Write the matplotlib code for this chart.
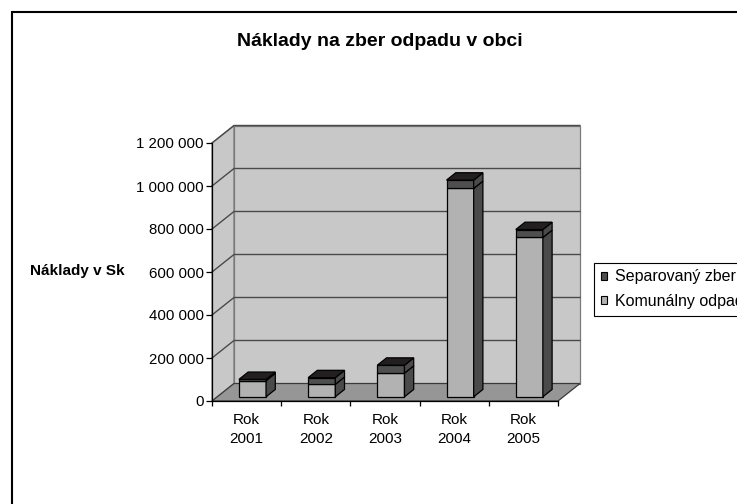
import matplotlib
matplotlib.use('Agg')
import matplotlib.pyplot as plt
from matplotlib.patches import Polygon, Patch, Rectangle
from matplotlib.ticker import FuncFormatter, FixedLocator

plt.rcParams['font.family'] = ['Liberation Sans', 'DejaVu Sans']

# ---- data ----
categories = ['Rok\n2001', 'Rok\n2002', 'Rok\n2003', 'Rok\n2004', 'Rok\n2005']
komunalny = [75000, 58000, 110000, 969000, 741000]
separovany = [6000, 31000, 37000, 39000, 37000]
yticks = [0, 200000, 400000, 600000, 800000, 1000000, 1200000]
series_names = ['Separovaný zber', 'Komunálny odpad']
title = 'Náklady na zber odpadu v obci'
ylabel = 'Náklady v Sk'

# ---- layout ----
W, H = 737, 504
fig = plt.figure(figsize=(W / 100, H / 100), dpi=100)
L, R, B, T = 212, 558, 401, 143          # front plane of plot area (px)
ax = fig.add_axes([L / W, 1 - B / H, (R - L) / W, (B - T) / H])
n = len(categories)
ymax = yticks[-1]
ax.set_xlim(0, n)
ax.set_ylim(0, ymax)
ax.patch.set_visible(False)

DX = 22 / ((R - L) / n)                  # depth offset in category units
DY = 17.5 * ymax / (B - T)               # depth offset in value units

wall_c = '#c8c8c8'
floor_c = '#969696'
grid_c = '#4a4a4a'
kom_front = '#b2b2b2'
sep_front = '#4f4f4f'
side_c = '#4a4a4a'
top_c = '#231f20'


def P(c, v, z):
    return (c + z * DX, v + z * DY)


def poly(pts, fc, ec='black', lw=0.9, zo=1):
    ax.add_patch(Polygon(pts, closed=True, fc=fc, ec=ec, lw=lw, zorder=zo,
                         clip_on=False, joinstyle='miter'))


# walls and floor
poly([P(0, 0, 0), P(0, 0, 1), P(0, ymax, 1), P(0, ymax, 0)], wall_c, ec='#7a7a7a', zo=1)
poly([P(0, 0, 1), P(n, 0, 1), P(n, ymax, 1), P(0, ymax, 1)], wall_c, ec='#7a7a7a', zo=1)
poly([P(0, 0, 0), P(n, 0, 0), P(n, 0, 1), P(0, 0, 1)], floor_c, ec='#3a3a3a', zo=1.5)

# gridlines on side and back wall
for v in yticks[1:]:
    a, b, c = P(0, v, 0), P(0, v, 1), P(n, v, 1)
    ax.plot([a[0], b[0], c[0]], [a[1], b[1], c[1]], color=grid_c, lw=1.0,
            zorder=1.2, clip_on=False)

# bars
x_off0, x_off1 = 0.313, 0.705
z0, z1 = 0.24, 0.66
for i in range(n):
    x0, x1 = i + x_off0, i + x_off1
    segs = [(0, komunalny[i], kom_front),
            (komunalny[i], komunalny[i] + separovany[i], sep_front)]
    for v0, v1, fc in segs:
        poly([P(x0, v0, z0), P(x1, v0, z0), P(x1, v1, z0), P(x0, v1, z0)], fc, zo=3)
        poly([P(x1, v0, z0), P(x1, v0, z1), P(x1, v1, z1), P(x1, v1, z0)], side_c, zo=3)
    vt = komunalny[i] + separovany[i]
    poly([P(x0, vt, z0), P(x1, vt, z0), P(x1, vt, z1), P(x0, vt, z1)], top_c, zo=3)

# axes
for s in ['top', 'right']:
    ax.spines[s].set_visible(False)
for s in ['left', 'bottom']:
    ax.spines[s].set_color('black')
    ax.spines[s].set_linewidth(0.9)
    ax.spines[s].set_zorder(2)

ax.yaxis.set_major_locator(FixedLocator(yticks))
ax.yaxis.set_major_formatter(FuncFormatter(lambda v, p: f'{int(v):,}'.replace(',', ' ')))
ax.tick_params(axis='y', direction='out', length=4.3, width=0.9, pad=1.5,
               labelsize=10.8, colors='black')

ax.xaxis.set_major_locator(FixedLocator(range(n + 1)))
ax.xaxis.set_minor_locator(FixedLocator([i + 0.5 for i in range(n)]))
ax.set_xticklabels([], minor=False)
ax.set_xticklabels(categories, minor=True, linespacing=1.45)
ax.tick_params(axis='x', which='major', direction='out', length=3.6, width=0.9)
ax.tick_params(axis='x', which='minor', length=0, pad=8.5, labelsize=11)

# texts
fig.text(380 / W, 1 - 46.5 / H, title, ha='center', va='baseline',
         fontsize=14, fontweight='bold')
fig.text(77 / W, 1 - 271 / H, ylabel, ha='center', va='center',
         fontsize=11, fontweight='bold')

# legend
handles = [Patch(fc=sep_front, ec='black', lw=0.8, label=series_names[0]),
           Patch(fc=kom_front, ec='black', lw=0.8, label=series_names[1])]
leg = fig.legend(handles=handles, loc='upper left',
                 bbox_to_anchor=(594 / W, 1 - 262.7 / H), borderaxespad=0,
                 frameon=True, fancybox=False, edgecolor='black', framealpha=1,
                 fontsize=11.5, handlelength=0.42, handleheight=0.42,
                 handletextpad=0.45, borderpad=0.42, labelspacing=0.6)
leg.get_frame().set_linewidth(0.8)

# outer chart border (extends past the right and bottom edges)
fig.add_artist(Rectangle((11.5 / W, -0.1), 1.2, 1.1 - 12 / H,
                         transform=fig.transFigure, fill=False,
                         ec='black', lw=1.5, clip_on=False))

fig.savefig('out.png', dpi=100)
